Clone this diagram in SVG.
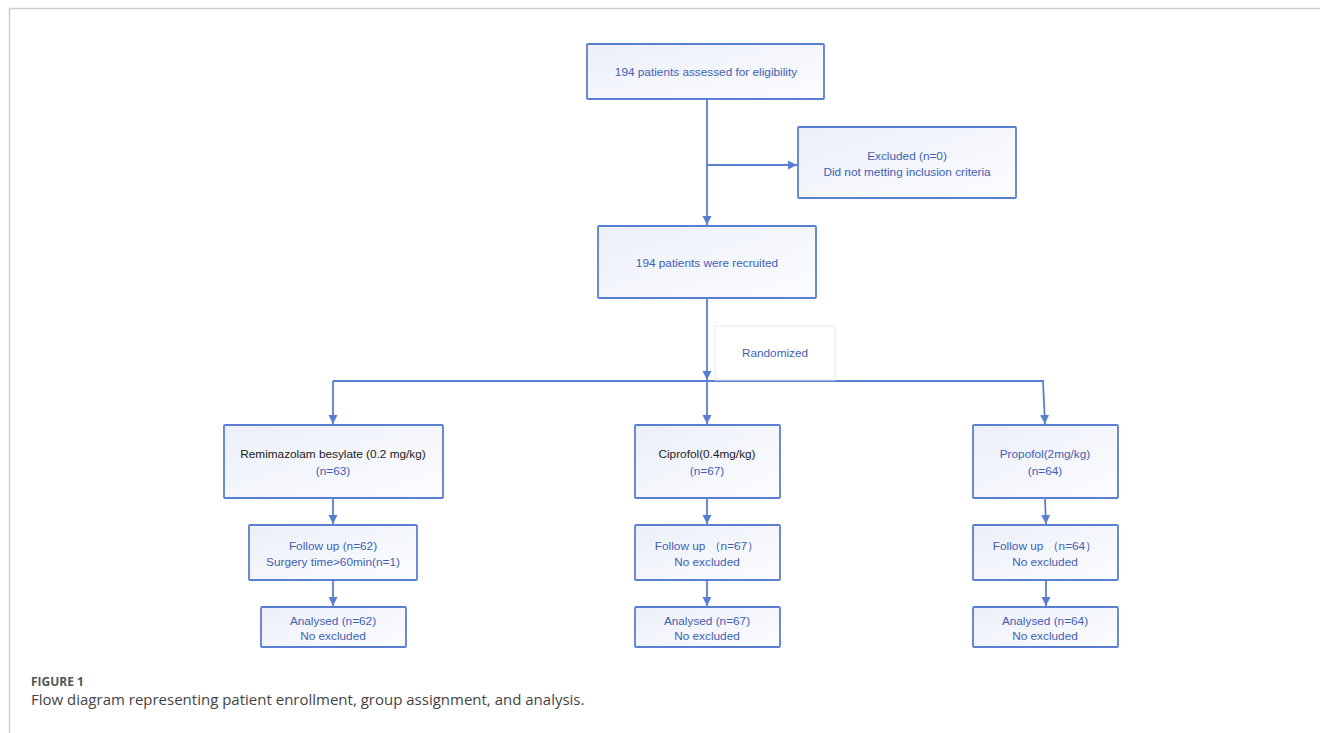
<svg xmlns="http://www.w3.org/2000/svg" width="1320" height="733" viewBox="0 0 1320 733">
<style>
.box{fill:url(#g);stroke:#5b7fd0;stroke-width:1.8}
.t{font-family:"Liberation Sans",Arial,sans-serif;font-size:11.8px;fill:#3f5fb5;text-anchor:middle}
.k{fill:#222}
.c{stroke:#5b7fd0;stroke-width:1.8;fill:none}
</style>
<defs>
<linearGradient id="g" x1="0" y1="0" x2="1" y2="1">
<stop offset="0" stop-color="#eceff8"/>
<stop offset="1" stop-color="#fbfdff"/>
</linearGradient>
<marker id="a" markerWidth="10" markerHeight="10" refX="9" refY="4.5" orient="auto" markerUnits="userSpaceOnUse">
<path d="M0,0 L9,4.5 L0,9 Z" fill="#5b7fd0"/>
</marker>
</defs>
<rect width="1320" height="733" fill="#fff"/>
<path d="M9.5,733 V8.5 H1320" fill="none" stroke="#cfcfcf" stroke-width="1.5"/>
<g id="connectors">
<path class="c" d="M707,99 V225" marker-end="url(#a)"/>
<path class="c" d="M707,165 H797" marker-end="url(#a)"/>
<path class="c" d="M707,298 V380" marker-end="url(#a)"/>
<path class="c" d="M333,381 H1044"/>
<path class="c" d="M333,381 V424" marker-end="url(#a)"/>
<path class="c" d="M707,381 V424" marker-end="url(#a)"/>
<path class="c" d="M1043,381 L1045,424" marker-end="url(#a)"/>
<path class="c" d="M333,498 V524" marker-end="url(#a)"/>
<path class="c" d="M707,498 V524" marker-end="url(#a)"/>
<path class="c" d="M1045,498 L1046,524" marker-end="url(#a)"/>
<path class="c" d="M333,580 V606" marker-end="url(#a)"/>
<path class="c" d="M707,580 V606" marker-end="url(#a)"/>
<path class="c" d="M1046,580 L1046,606" marker-end="url(#a)"/>
</g>
<g id="n1"><rect class="box" x="587" y="44" width="237" height="55" rx="1"/><text class="t" x="706" y="76">194 patients assessed for eligibility</text></g>
<g id="n2"><rect class="box" x="798" y="127" width="218" height="71" rx="1"/><text class="t" x="907" y="160">Excluded (n=0)</text><text class="t" x="907" y="176">Did not metting inclusion criteria</text></g>
<g id="n3"><rect class="box" x="598" y="226" width="218" height="72" rx="1"/><text class="t" x="707" y="267">194 patients were recruited</text></g>
<g id="n4"><rect x="715" y="326" width="120" height="54" fill="#fff" stroke="#e6e9f2" stroke-width="1"/><text class="t" x="775" y="357">Randomized</text></g>
<g id="n5"><rect class="box" x="224" y="425" width="219" height="73" rx="1"/><text class="t k" x="333" y="458">Remimazolam besylate (0.2 mg/kg)</text><text class="t" x="333" y="475">(n=63)</text></g>
<g id="n6"><rect class="box" x="635" y="425" width="145" height="73" rx="1"/><text class="t k" x="707" y="458">Ciprofol(0.4mg/kg)</text><text class="t" x="707" y="475">(n=67)</text></g>
<g id="n7"><rect class="box" x="973" y="425" width="145" height="73" rx="1"/><text class="t" x="1045" y="458">Propofol(2mg/kg)</text><text class="t" x="1045" y="475">(n=64)</text></g>
<g id="n8"><rect class="box" x="249" y="525" width="168" height="55" rx="1"/><text class="t" x="333" y="550">Follow up (n=62)</text><text class="t" x="333" y="566">Surgery time&gt;60min(n=1)</text></g>
<g id="n9"><rect class="box" x="635" y="525" width="145" height="55" rx="1"/><text class="t" x="707" y="550">Follow up （n=67）</text><text class="t" x="707" y="566">No excluded</text></g>
<g id="n10"><rect class="box" x="973" y="525" width="145" height="55" rx="1"/><text class="t" x="1045" y="550">Follow up （n=64）</text><text class="t" x="1045" y="566">No excluded</text></g>
<g id="n11"><rect class="box" x="261" y="607" width="145" height="40" rx="1"/><text class="t" x="333" y="625">Analysed (n=62)</text><text class="t" x="333" y="640">No excluded</text></g>
<g id="n12"><rect class="box" x="635" y="607" width="145" height="40" rx="1"/><text class="t" x="707" y="625">Analysed (n=67)</text><text class="t" x="707" y="640">No excluded</text></g>
<g id="n13"><rect class="box" x="973" y="607" width="145" height="40" rx="1"/><text class="t" x="1045" y="625">Analysed (n=64)</text><text class="t" x="1045" y="640">No excluded</text></g>
<text x="31" y="686" font-family="'Open Sans','Liberation Sans',sans-serif" font-size="12" font-weight="bold" fill="#555">FIGURE 1</text>
<text x="31" y="705" font-family="'Open Sans','Liberation Sans',sans-serif" font-size="15" fill="#444">Flow diagram representing patient enrollment, group assignment, and analysis.</text>
</svg>
